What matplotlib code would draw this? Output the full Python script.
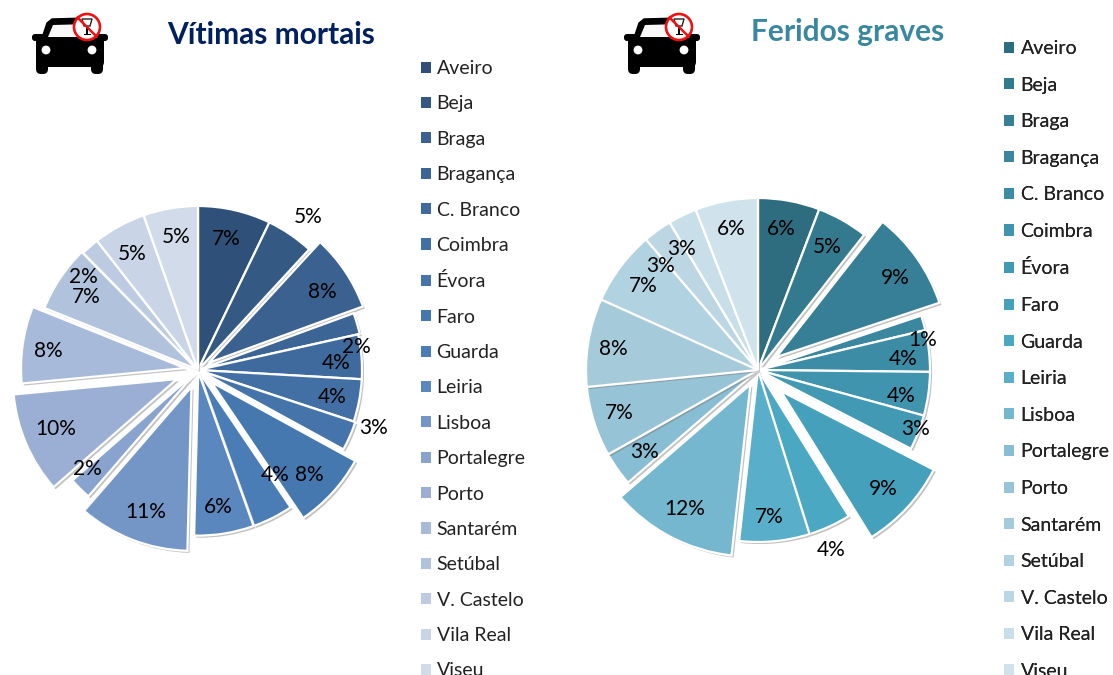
import matplotlib
matplotlib.use('Agg')
import matplotlib.pyplot as plt
import matplotlib.patheffects as pe
from matplotlib.patches import Circle, FancyBboxPatch, Polygon, Rectangle

plt.rcParams['font.family'] = ['Lato', 'DejaVu Sans']

W, H = 1113, 675

regions = ['Aveiro', 'Beja', 'Braga', 'Bragança', 'C. Branco', 'Coimbra', 'Évora', 'Faro', 'Guarda',
           'Leiria', 'Lisboa', 'Portalegre', 'Porto', 'Santarém', 'Setúbal', 'V. Castelo', 'Vila Real', 'Viseu']

# share of victims in %
mortais = [7.2, 4.7, 7.6, 2.1, 4.4, 4.2, 2.9, 7.6, 4.0, 5.9, 11.0, 2.2, 10.0, 7.6, 6.6, 1.8, 5.2, 5.4]
graves = [5.8, 4.8, 9.3, 1.4, 3.9, 4.1, 3.3, 8.6, 4.0, 6.6, 11.9, 3.2, 6.6, 8.3, 7.0, 2.7, 2.7, 5.9]

mortais_explode = [0, 0, 0.08, 0.01, 0, 0, 0.01, 0.11, 0.01, 0.01, 0.11, 0.02, 0.14, 0.08, 0.01, 0, 0, 0]
graves_explode = [0, 0, 0.13, 0, 0, 0, 0, 0.18, 0, 0, 0.095, 0, 0, 0, 0, 0, 0, 0]

mortais_colors = ['#2F5078', '#345A84', '#3A6190', '#3B6595', '#3E6A9D', '#4270A5', '#4474AA', '#4678B0', '#4A7DB5',
                  '#5A87BE', '#7496C6', '#87A3CE', '#9AAFD3', '#A8BAD9', '#B1C2DD', '#BDCBE2', '#C9D4E6', '#D2DBEA']
graves_colors = ['#2E6C80', '#337A8F', '#367F97', '#3A879F', '#3C8CA6', '#4094AE', '#4299B3', '#45A0BC', '#4AA8C3',
                 '#59AFCA', '#74B7CF', '#88BED3', '#97C3D6', '#A5CBDB', '#B1D2E0', '#BDD6E3', '#C8DFE9', '#D0E3EC']

# label centres in picture pixels, the chart places them by hand
mortais_labels = [(226, 239), (308, 217), (322, 292), (356, 347), (336, 363), (332, 397), (374, 428), (309, 475), (275, 475),
                  (218, 507), (146, 512), (87, 469), (56, 429), (48, 351), (86, 297), (83, 277), (132, 254), (176, 237)]
graves_labels = [(781, 229), (827, 247), (895, 278), (923, 340), (903, 359), (901, 396), (916, 429), (883, 489), (831, 550),
                 (769, 517), (685, 509), (645, 452), (619, 413), (613, 349), (643, 286), (661, 266), (682, 249), (731, 229)]


def draw_pie(ax, values, colors, explode, cx, cy, radius, labels):
	# pie takes explode in data units, here pixels
	wedges, _ = ax.pie(values, colors=colors, explode=[e * radius for e in explode], center=(cx, H - cy), radius=radius,
	                   startangle=90, counterclock=False, normalize=True,
	                   wedgeprops={'edgecolor': 'white', 'linewidth': 1.6})
	for w in wedges:
		w.set_path_effects([pe.SimplePatchShadow(offset=(1.5, -1.5), shadow_rgbFace='#777777', alpha=0.45), pe.Normal()])
	for v, (x, y) in zip(values, labels):
		ax.text(x, H - y, '{}%'.format(round(v)), ha='center', va='center', fontsize=15, color='black', zorder=5)
	return wedges


def draw_legend(ax, wedges, x, y, spacing, pad):
	leg = ax.legend(wedges, regions, loc='upper left', bbox_to_anchor=(x, H - y), bbox_transform=ax.transData,
	                frameon=False, fontsize=14, handlelength=0.5, handleheight=0.5, labelspacing=spacing,
	                handletextpad=pad, borderpad=0, borderaxespad=0, labelcolor='#222222')
	for h in leg.legend_handles:
		h.set_path_effects([])
		h.set_edgecolor('none')
	ax.add_artist(leg)


def draw_car(ax, dx):
	def add(p):
		ax.add_patch(p)
	# body
	add(FancyBboxPatch((36 + dx, H - 67), 68, 30, boxstyle='round,pad=0,rounding_size=5', fc='black', ec='none', zorder=6))
	add(Polygon([(42 + dx, H - 38), (47 + dx, H - 23), (52 + dx, H - 19), (88 + dx, H - 18), (96 + dx, H - 24), (99 + dx, H - 38)],
	            closed=True, fc='black', ec='black', lw=1, zorder=6))
	add(Polygon([(48 + dx, H - 37), (53 + dx, H - 25), (90 + dx, H - 24), (94 + dx, H - 37)], closed=True, fc='#F8F8F8', ec='none', zorder=7))
	# mirrors
	add(FancyBboxPatch((32 + dx, H - 41), 76, 7, boxstyle='round,pad=0,rounding_size=3', fc='black', ec='none', zorder=6))
	# wheels
	for wx in (36, 91):
		add(FancyBboxPatch((wx + dx, H - 74), 12, 14, boxstyle='round,pad=0,rounding_size=5', fc='black', ec='none', zorder=6))
	# headlights
	for lx in (46, 92):
		add(Circle((lx + dx, H - 50), 4.4, fc='white', ec='none', zorder=7))
	# no drinking sign
	cx, cy = 87 + dx, H - 27
	add(Circle((cx, cy), 13, fc='white', ec='none', zorder=8))
	add(Polygon([(cx - 5, cy + 8), (cx + 5, cy + 8), (cx + 3, cy + 1), (cx - 3, cy + 1)], closed=True, fc='white', ec='#222222', lw=1, zorder=9))
	add(Rectangle((cx - 0.6, cy - 7), 1.2, 8, fc='black', ec='none', zorder=9))
	add(Rectangle((cx - 3.5, cy - 8), 7, 1.2, fc='black', ec='none', zorder=9))
	ax.plot([cx - 9.5, cx + 9.5], [cy + 9.5, cy - 9.5], color='#EE1111', lw=1.8, zorder=10)
	add(Circle((cx, cy), 13, fc='none', ec='#EE1111', lw=1.9, zorder=10))


fig = plt.figure(figsize=(W / 100, H / 100), dpi=100, facecolor='white')
ax = fig.add_axes([0, 0, 1, 1])

w1 = draw_pie(ax, mortais, mortais_colors, mortais_explode, 198, 370, 164, mortais_labels)
w2 = draw_pie(ax, graves, graves_colors, graves_explode, 758, 370, 172, graves_labels)

ax.set_xlim(0, W)
ax.set_ylim(0, H)
ax.set_aspect('equal')
ax.axis('off')

draw_legend(ax, w1, 421, 60, 0.945, 0.3)
draw_legend(ax, w2, 1004, 40, 1.007, 0.35)

ax.text(271, H - 35, 'Vítimas mortais', ha='center', va='center', fontsize=21.5, fontweight='bold', color='#002060')
ax.text(848, H - 32, 'Feridos graves', ha='center', va='center', fontsize=21.5, fontweight='bold', color='#3A87A0')

draw_car(ax, 0)
draw_car(ax, 592)

fig.savefig('out.png', dpi=100)
